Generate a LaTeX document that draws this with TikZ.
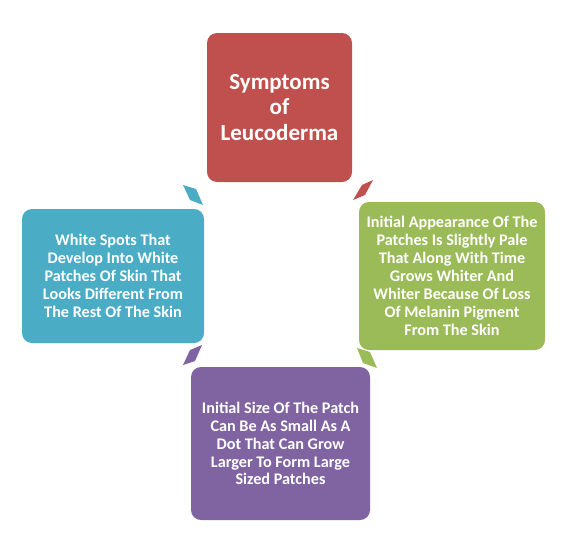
\documentclass[tikz,border=0pt]{standalone}
\usepackage{fontspec}
\setmainfont{Carlito}
\definecolor{cred}{HTML}{C0504D}
\definecolor{cgreen}{HTML}{9BBB59}
\definecolor{cteal}{HTML}{4BACC6}
\definecolor{cpurple}{HTML}{8064A2}
\begin{document}
\begin{tikzpicture}[x=1pt,y=-1pt,
  box/.style={rounded corners=10pt, text=white, align=center, inner sep=0pt,
    font=\bfseries\fontsize{16.2}{17.9}\selectfont},
  title/.style={font=\bfseries\fontsize{23}{25.3}\selectfont}]
\useasboundingbox (0,0) rectangle (572,533);
\fill[white] (0,0) rectangle (572,533);
\node[box, title, fill=cred, minimum width=145pt, minimum height=149pt] (sym) at (279.5,107.5)
  {Symptoms\\of\\Leucoderma};
\node[box, fill=cgreen, minimum width=186pt, minimum height=148pt] (pale) at (452,276)
  {Initial Appearance Of The\\Patches Is Slightly Pale\\That Along With Time\\Grows Whiter And\\Whiter Because Of Loss\\Of Melanin Pigment\\From The Skin};
\node[box, fill=cpurple, minimum width=179pt, minimum height=153pt] (size) at (280.5,443.5)
  {Initial Size Of The Patch\\Can Be As Small As A\\Dot That Can Grow\\Larger To Form Large\\Sized Patches};
\node[box, fill=cteal, minimum width=182pt, minimum height=134pt] (spots) at (113,276)
  {White Spots That\\Develop Into White\\Patches Of Skin That\\Looks Different From\\The Rest Of The Skin};
% cycle arrows
\fill[cteal] (183,185) -- (196,189) -- (203,205) -- (190,200) -- cycle;
\fill[cred] (373,180) -- (362,185) -- (353,200) -- (365,195) -- cycle;
\fill[cgreen] (357,348) -- (370,352) -- (377,368) -- (363,363) -- cycle;
\fill[cpurple] (202,345) -- (190,350) -- (183,365) -- (195,361) -- cycle;
\end{tikzpicture}
\end{document}
